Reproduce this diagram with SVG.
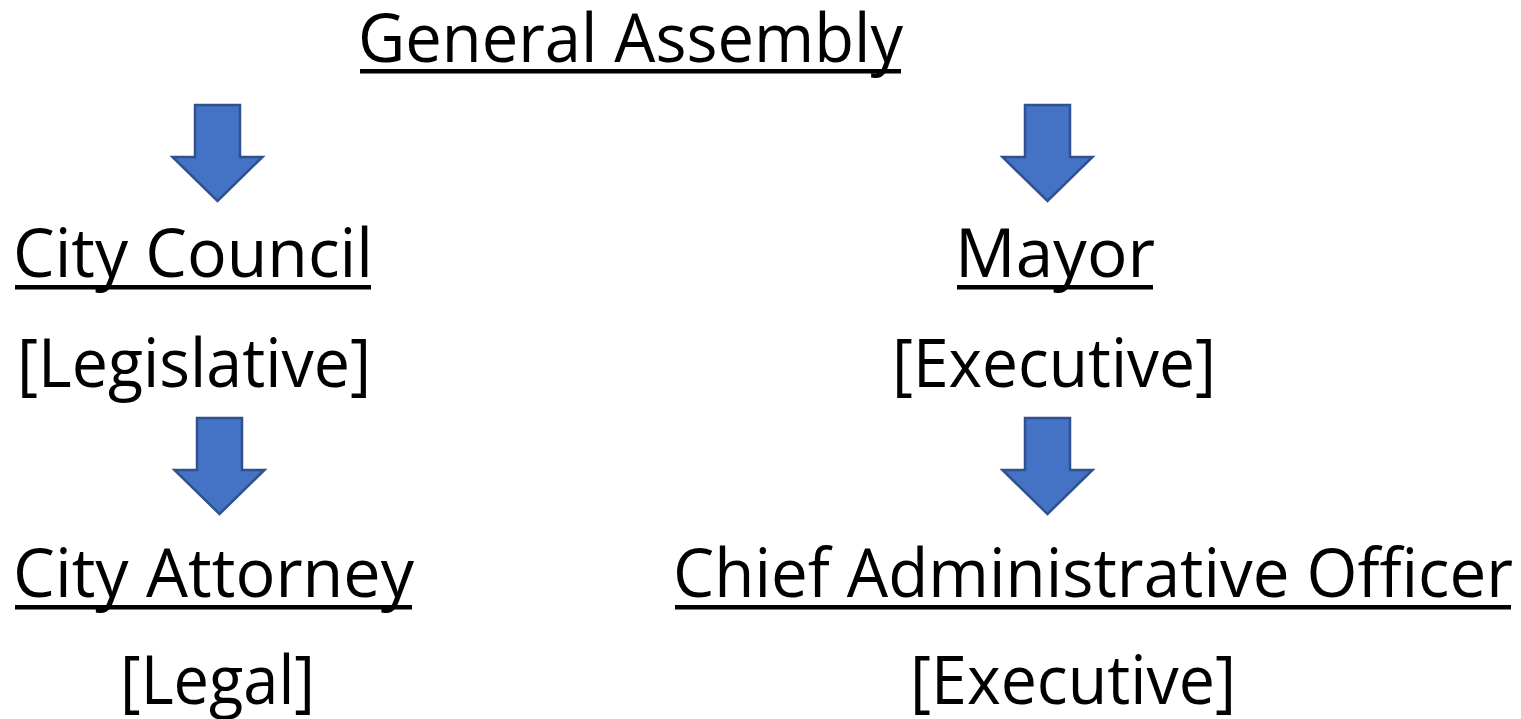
<svg xmlns="http://www.w3.org/2000/svg" width="1521" height="719" viewBox="0 0 1521 719">
<style>
text{font-family:"Open Sans","Liberation Sans",sans-serif;font-size:67px;fill:#000}
.ul{fill:#000}
.arr{fill:#4472C4;stroke:#2F528F;stroke-width:2.5;stroke-linejoin:miter}
</style>
<defs>
<path id="arrow" d="M-22.5,0 H22.5 V52 H45 L0,96 L-45,52 H-22.5 Z"/>
</defs>
<g id="connectors">
<use href="#arrow" class="arr" x="217.5" y="105"/>
<use href="#arrow" class="arr" x="1047.5" y="105"/>
<use href="#arrow" class="arr" x="219.5" y="418"/>
<use href="#arrow" class="arr" x="1047.5" y="418"/>
</g>
<g id="general-assembly">
<text x="358" y="62" textLength="545" lengthAdjust="spacingAndGlyphs">General Assembly</text>
<rect class="ul" x="360" y="69" width="541" height="4.5"/>
</g>
<g id="city-council">
<text x="13" y="277" textLength="360" lengthAdjust="spacingAndGlyphs">City Council</text>
<rect class="ul" x="15" y="285" width="356" height="4.5"/>
<text x="17" y="387" textLength="354" lengthAdjust="spacingAndGlyphs">[Legislative]</text>
</g>
<g id="mayor">
<text x="955" y="277" textLength="200" lengthAdjust="spacingAndGlyphs">Mayor</text>
<rect class="ul" x="957" y="285" width="196" height="4.5"/>
<text x="892" y="387" textLength="324" lengthAdjust="spacingAndGlyphs">[Executive]</text>
</g>
<g id="city-attorney">
<text x="13" y="597" textLength="401" lengthAdjust="spacingAndGlyphs">City Attorney</text>
<rect class="ul" x="15" y="605" width="397" height="4.5"/>
<text x="120" y="704" textLength="195" lengthAdjust="spacingAndGlyphs">[Legal]</text>
</g>
<g id="chief-administrative-officer">
<text x="673" y="597" textLength="840" lengthAdjust="spacingAndGlyphs">Chief Administrative Officer</text>
<rect class="ul" x="675" y="605" width="836" height="4.5"/>
<text x="910" y="704" textLength="326" lengthAdjust="spacingAndGlyphs">[Executive]</text>
</g>
</svg>
